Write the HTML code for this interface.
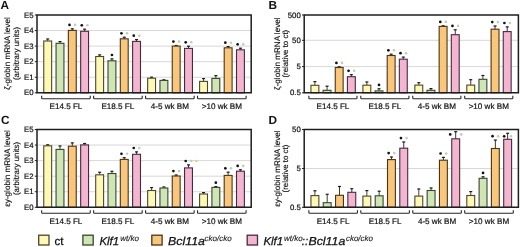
<!DOCTYPE html>
<html><head><meta charset="utf-8"><style>
html,body{margin:0;padding:0;background:#fff;width:520px;height:247px;overflow:hidden}
svg{display:block;will-change:transform}
text{font-family:"Liberation Sans", sans-serif;text-rendering:geometricPrecision}
</style></head><body>
<svg width="520" height="247" viewBox="0 0 520 247">
<rect width="520" height="247" fill="#fff"/>
<line x1="37" y1="77.24" x2="251.2" y2="77.24" stroke="#d8d8d8" stroke-width="1"/>
<line x1="37" y1="61.68" x2="251.2" y2="61.68" stroke="#d8d8d8" stroke-width="1"/>
<line x1="37" y1="46.12" x2="251.2" y2="46.12" stroke="#d8d8d8" stroke-width="1"/>
<line x1="37" y1="30.56" x2="251.2" y2="30.56" stroke="#d8d8d8" stroke-width="1"/>
<line x1="47.70" y1="38.8" x2="47.70" y2="41.0" stroke="#4a4630" stroke-width="1"/>
<line x1="46.20" y1="39.00" x2="49.20" y2="39.00" stroke="#1a1a1a" stroke-width="1.2"/>
<rect x="43.75" y="41.0" width="7.9" height="51.80" fill="#fdf8b4" stroke="#4a4630" stroke-width="1.1"/>
<line x1="60.00" y1="41.4" x2="60.00" y2="43.3" stroke="#36452e" stroke-width="1"/>
<line x1="58.50" y1="41.60" x2="61.50" y2="41.60" stroke="#1a1a1a" stroke-width="1.2"/>
<rect x="56.05" y="43.3" width="7.9" height="49.50" fill="#cfe6b4" stroke="#36452e" stroke-width="1.1"/>
<line x1="72.30" y1="28.6" x2="72.30" y2="30.4" stroke="#4a3418" stroke-width="1"/>
<line x1="70.80" y1="28.80" x2="73.80" y2="28.80" stroke="#1a1a1a" stroke-width="1.2"/>
<rect x="68.35" y="30.4" width="7.9" height="62.40" fill="#f8c77c" stroke="#4a3418" stroke-width="1.1"/>
<circle cx="69.50" cy="24.90" r="1.35" fill="#111"/>
<circle cx="75.10" cy="24.90" r="1.3" fill="#b9d3ad"/>
<line x1="84.60" y1="29" x2="84.60" y2="31.3" stroke="#452c3c" stroke-width="1"/>
<line x1="83.10" y1="29.20" x2="86.10" y2="29.20" stroke="#1a1a1a" stroke-width="1.2"/>
<rect x="80.65" y="31.3" width="7.9" height="61.50" fill="#f3b5d0" stroke="#452c3c" stroke-width="1.1"/>
<circle cx="81.80" cy="25.30" r="1.35" fill="#111"/>
<circle cx="87.40" cy="25.30" r="1.3" fill="#b9d3ad"/>
<path d="M41.65 95.8 V98.0 Q41.65 98.8 42.45 98.8 H89.45 Q90.25 98.8 90.25 98.0 V95.8" fill="none" stroke="#262626" stroke-width="1.1"/>
<text x="65.95" y="109.10" font-size="8.1" text-anchor="middle" fill="#111" stroke="#111" stroke-width="0.2">E14.5 FL</text>
<line x1="99.65" y1="54.7" x2="99.65" y2="56.5" stroke="#4a4630" stroke-width="1"/>
<line x1="98.15" y1="54.90" x2="101.15" y2="54.90" stroke="#1a1a1a" stroke-width="1.2"/>
<rect x="95.70" y="56.5" width="7.9" height="36.30" fill="#fdf8b4" stroke="#4a4630" stroke-width="1.1"/>
<line x1="111.95" y1="58.7" x2="111.95" y2="60.8" stroke="#36452e" stroke-width="1"/>
<line x1="110.45" y1="58.90" x2="113.45" y2="58.90" stroke="#1a1a1a" stroke-width="1.2"/>
<rect x="108.00" y="60.8" width="7.9" height="32.00" fill="#cfe6b4" stroke="#36452e" stroke-width="1.1"/>
<circle cx="111.95" cy="55.00" r="1.35" fill="#111"/>
<line x1="124.25" y1="37" x2="124.25" y2="38.8" stroke="#4a3418" stroke-width="1"/>
<line x1="122.75" y1="37.20" x2="125.75" y2="37.20" stroke="#1a1a1a" stroke-width="1.2"/>
<rect x="120.30" y="38.8" width="7.9" height="54.00" fill="#f8c77c" stroke="#4a3418" stroke-width="1.1"/>
<circle cx="121.45" cy="33.30" r="1.35" fill="#111"/>
<circle cx="127.05" cy="33.30" r="1.3" fill="#b9d3ad"/>
<line x1="136.55" y1="39.4" x2="136.55" y2="41.4" stroke="#452c3c" stroke-width="1"/>
<line x1="135.05" y1="39.60" x2="138.05" y2="39.60" stroke="#1a1a1a" stroke-width="1.2"/>
<rect x="132.60" y="41.4" width="7.9" height="51.40" fill="#f3b5d0" stroke="#452c3c" stroke-width="1.1"/>
<circle cx="133.75" cy="35.70" r="1.35" fill="#111"/>
<circle cx="139.35" cy="35.70" r="1.3" fill="#b9d3ad"/>
<path d="M93.60 95.8 V98.0 Q93.60 98.8 94.40 98.8 H141.40 Q142.20 98.8 142.20 98.0 V95.8" fill="none" stroke="#262626" stroke-width="1.1"/>
<text x="117.90" y="109.10" font-size="8.1" text-anchor="middle" fill="#111" stroke="#111" stroke-width="0.2">E18.5 FL</text>
<line x1="151.60" y1="77" x2="151.60" y2="78.2" stroke="#4a4630" stroke-width="1"/>
<line x1="150.10" y1="77.20" x2="153.10" y2="77.20" stroke="#1a1a1a" stroke-width="1.2"/>
<rect x="147.65" y="78.2" width="7.9" height="14.60" fill="#fdf8b4" stroke="#4a4630" stroke-width="1.1"/>
<line x1="163.90" y1="79.6" x2="163.90" y2="80.4" stroke="#36452e" stroke-width="1"/>
<line x1="162.40" y1="79.80" x2="165.40" y2="79.80" stroke="#1a1a1a" stroke-width="1.2"/>
<rect x="159.95" y="80.4" width="7.9" height="12.40" fill="#cfe6b4" stroke="#36452e" stroke-width="1.1"/>
<line x1="176.20" y1="45.3" x2="176.20" y2="46.1" stroke="#4a3418" stroke-width="1"/>
<line x1="174.70" y1="45.50" x2="177.70" y2="45.50" stroke="#1a1a1a" stroke-width="1.2"/>
<rect x="172.25" y="46.1" width="7.9" height="46.70" fill="#f8c77c" stroke="#4a3418" stroke-width="1.1"/>
<circle cx="173.40" cy="41.60" r="1.35" fill="#111"/>
<circle cx="179.00" cy="41.60" r="1.3" fill="#b9d3ad"/>
<line x1="188.50" y1="46" x2="188.50" y2="48.4" stroke="#452c3c" stroke-width="1"/>
<line x1="187.00" y1="46.20" x2="190.00" y2="46.20" stroke="#1a1a1a" stroke-width="1.2"/>
<rect x="184.55" y="48.4" width="7.9" height="44.40" fill="#f3b5d0" stroke="#452c3c" stroke-width="1.1"/>
<circle cx="185.70" cy="42.30" r="1.35" fill="#111"/>
<circle cx="191.30" cy="42.30" r="1.3" fill="#b9d3ad"/>
<path d="M145.55 95.8 V98.0 Q145.55 98.8 146.35 98.8 H193.35 Q194.15 98.8 194.15 98.0 V95.8" fill="none" stroke="#262626" stroke-width="1.1"/>
<text x="169.85" y="109.10" font-size="8.1" text-anchor="middle" fill="#111" stroke="#111" stroke-width="0.2">4-5 wk BM</text>
<line x1="203.55" y1="78.4" x2="203.55" y2="81.4" stroke="#4a4630" stroke-width="1"/>
<line x1="202.05" y1="78.60" x2="205.05" y2="78.60" stroke="#1a1a1a" stroke-width="1.2"/>
<rect x="199.60" y="81.4" width="7.9" height="11.40" fill="#fdf8b4" stroke="#4a4630" stroke-width="1.1"/>
<line x1="215.85" y1="75.4" x2="215.85" y2="78.4" stroke="#36452e" stroke-width="1"/>
<line x1="214.35" y1="75.60" x2="217.35" y2="75.60" stroke="#1a1a1a" stroke-width="1.2"/>
<rect x="211.90" y="78.4" width="7.9" height="14.40" fill="#cfe6b4" stroke="#36452e" stroke-width="1.1"/>
<line x1="228.15" y1="46.4" x2="228.15" y2="47.8" stroke="#4a3418" stroke-width="1"/>
<line x1="226.65" y1="46.60" x2="229.65" y2="46.60" stroke="#1a1a1a" stroke-width="1.2"/>
<rect x="224.20" y="47.8" width="7.9" height="45.00" fill="#f8c77c" stroke="#4a3418" stroke-width="1.1"/>
<circle cx="225.35" cy="42.70" r="1.35" fill="#111"/>
<circle cx="230.95" cy="42.70" r="1.3" fill="#b9d3ad"/>
<line x1="240.45" y1="48" x2="240.45" y2="49.8" stroke="#452c3c" stroke-width="1"/>
<line x1="238.95" y1="48.20" x2="241.95" y2="48.20" stroke="#1a1a1a" stroke-width="1.2"/>
<rect x="236.50" y="49.8" width="7.9" height="43.00" fill="#f3b5d0" stroke="#452c3c" stroke-width="1.1"/>
<circle cx="237.65" cy="44.30" r="1.35" fill="#111"/>
<circle cx="243.25" cy="44.30" r="1.3" fill="#b9d3ad"/>
<path d="M197.50 95.8 V98.0 Q197.50 98.8 198.30 98.8 H245.30 Q246.10 98.8 246.10 98.0 V95.8" fill="none" stroke="#262626" stroke-width="1.1"/>
<text x="221.80" y="109.10" font-size="8.1" text-anchor="middle" fill="#111" stroke="#111" stroke-width="0.2">&gt;10 wk BM</text>
<path d="M37 15.0 H251.2 V92.8 H37 Z" fill="none" stroke="#1e1e1e" stroke-width="1.5"/>
<line x1="34.8" y1="92.8" x2="37" y2="92.8" stroke="#1e1e1e" stroke-width="1"/>
<text x="33.6" y="95.30" font-size="7.8" text-anchor="end" fill="#111" stroke="#111" stroke-width="0.2">E0</text>
<line x1="34.8" y1="77.24" x2="37" y2="77.24" stroke="#1e1e1e" stroke-width="1"/>
<text x="33.6" y="79.74" font-size="7.8" text-anchor="end" fill="#111" stroke="#111" stroke-width="0.2">E1</text>
<line x1="34.8" y1="61.68" x2="37" y2="61.68" stroke="#1e1e1e" stroke-width="1"/>
<text x="33.6" y="64.18" font-size="7.8" text-anchor="end" fill="#111" stroke="#111" stroke-width="0.2">E2</text>
<line x1="34.8" y1="46.12" x2="37" y2="46.12" stroke="#1e1e1e" stroke-width="1"/>
<text x="33.6" y="48.62" font-size="7.8" text-anchor="end" fill="#111" stroke="#111" stroke-width="0.2">E3</text>
<line x1="34.8" y1="30.56" x2="37" y2="30.56" stroke="#1e1e1e" stroke-width="1"/>
<text x="33.6" y="33.06" font-size="7.8" text-anchor="end" fill="#111" stroke="#111" stroke-width="0.2">E4</text>
<line x1="34.8" y1="15.0" x2="37" y2="15.0" stroke="#1e1e1e" stroke-width="1"/>
<text x="33.6" y="17.50" font-size="7.8" text-anchor="end" fill="#111" stroke="#111" stroke-width="0.2">E5</text>
<text x="0.5" y="9" font-size="11.8" font-weight="bold" fill="#111">A</text>
<text transform="translate(10.3,53.5) rotate(-90)" font-size="7.9" text-anchor="middle" fill="#111" stroke="#111" stroke-width="0.15"><tspan x="0" y="0" font-size="8.1">ζ-globin mRNA level</tspan><tspan x="0" y="8.8">(arbitrary units)</tspan></text>
<line x1="304.2" y1="66.6" x2="518.4" y2="66.6" stroke="#d8d8d8" stroke-width="1"/>
<line x1="304.2" y1="40.3" x2="518.4" y2="40.3" stroke="#d8d8d8" stroke-width="1"/>
<line x1="314.90" y1="81.4" x2="314.90" y2="85.3" stroke="#4a4630" stroke-width="1"/>
<line x1="313.40" y1="81.60" x2="316.40" y2="81.60" stroke="#1a1a1a" stroke-width="1.2"/>
<rect x="310.95" y="85.3" width="7.9" height="7.50" fill="#fdf8b4" stroke="#4a4630" stroke-width="1.1"/>
<line x1="327.05" y1="86" x2="327.05" y2="90.3" stroke="#36452e" stroke-width="1"/>
<line x1="325.55" y1="86.20" x2="328.55" y2="86.20" stroke="#1a1a1a" stroke-width="1.2"/>
<rect x="323.10" y="90.3" width="7.9" height="2.50" fill="#cfe6b4" stroke="#36452e" stroke-width="1.1"/>
<line x1="339.20" y1="66.6" x2="339.20" y2="67.5" stroke="#4a3418" stroke-width="1"/>
<line x1="337.70" y1="66.80" x2="340.70" y2="66.80" stroke="#1a1a1a" stroke-width="1.2"/>
<rect x="335.25" y="67.5" width="7.9" height="25.30" fill="#f8c77c" stroke="#4a3418" stroke-width="1.1"/>
<circle cx="336.40" cy="62.90" r="1.35" fill="#111"/>
<circle cx="342.00" cy="62.90" r="1.3" fill="#b9d3ad"/>
<line x1="351.35" y1="74.5" x2="351.35" y2="76.7" stroke="#452c3c" stroke-width="1"/>
<line x1="349.85" y1="74.70" x2="352.85" y2="74.70" stroke="#1a1a1a" stroke-width="1.2"/>
<rect x="347.40" y="76.7" width="7.9" height="16.10" fill="#f3b5d0" stroke="#452c3c" stroke-width="1.1"/>
<circle cx="348.55" cy="70.80" r="1.35" fill="#111"/>
<circle cx="354.15" cy="70.80" r="1.3" fill="#b9d3ad"/>
<path d="M308.85 95.8 V98.0 Q308.85 98.8 309.65 98.8 H356.20 Q357.00 98.8 357.00 98.0 V95.8" fill="none" stroke="#262626" stroke-width="1.1"/>
<text x="332.92" y="109.10" font-size="8.1" text-anchor="middle" fill="#111" stroke="#111" stroke-width="0.2">E14.5 FL</text>
<line x1="366.85" y1="81.8" x2="366.85" y2="85.2" stroke="#4a4630" stroke-width="1"/>
<line x1="365.35" y1="82.00" x2="368.35" y2="82.00" stroke="#1a1a1a" stroke-width="1.2"/>
<rect x="362.90" y="85.2" width="7.9" height="7.60" fill="#fdf8b4" stroke="#4a4630" stroke-width="1.1"/>
<line x1="379.00" y1="88.6" x2="379.00" y2="90.9" stroke="#36452e" stroke-width="1"/>
<line x1="377.50" y1="88.80" x2="380.50" y2="88.80" stroke="#1a1a1a" stroke-width="1.2"/>
<rect x="375.05" y="90.9" width="7.9" height="1.90" fill="#cfe6b4" stroke="#36452e" stroke-width="1.1"/>
<circle cx="379.00" cy="84.90" r="1.35" fill="#111"/>
<line x1="391.15" y1="54" x2="391.15" y2="55.5" stroke="#4a3418" stroke-width="1"/>
<line x1="389.65" y1="54.20" x2="392.65" y2="54.20" stroke="#1a1a1a" stroke-width="1.2"/>
<rect x="387.20" y="55.5" width="7.9" height="37.30" fill="#f8c77c" stroke="#4a3418" stroke-width="1.1"/>
<circle cx="388.35" cy="50.30" r="1.35" fill="#111"/>
<circle cx="393.95" cy="50.30" r="1.3" fill="#b9d3ad"/>
<line x1="403.30" y1="56.9" x2="403.30" y2="59.2" stroke="#452c3c" stroke-width="1"/>
<line x1="401.80" y1="57.10" x2="404.80" y2="57.10" stroke="#1a1a1a" stroke-width="1.2"/>
<rect x="399.35" y="59.2" width="7.9" height="33.60" fill="#f3b5d0" stroke="#452c3c" stroke-width="1.1"/>
<circle cx="400.50" cy="53.20" r="1.35" fill="#111"/>
<circle cx="406.10" cy="53.20" r="1.3" fill="#b9d3ad"/>
<path d="M360.80 95.8 V98.0 Q360.80 98.8 361.60 98.8 H408.15 Q408.95 98.8 408.95 98.0 V95.8" fill="none" stroke="#262626" stroke-width="1.1"/>
<text x="384.87" y="109.10" font-size="8.1" text-anchor="middle" fill="#111" stroke="#111" stroke-width="0.2">E18.5 FL</text>
<line x1="418.80" y1="82.5" x2="418.80" y2="85.1" stroke="#4a4630" stroke-width="1"/>
<line x1="417.30" y1="82.70" x2="420.30" y2="82.70" stroke="#1a1a1a" stroke-width="1.2"/>
<rect x="414.85" y="85.1" width="7.9" height="7.70" fill="#fdf8b4" stroke="#4a4630" stroke-width="1.1"/>
<line x1="430.95" y1="88.4" x2="430.95" y2="90.3" stroke="#36452e" stroke-width="1"/>
<line x1="429.45" y1="88.60" x2="432.45" y2="88.60" stroke="#1a1a1a" stroke-width="1.2"/>
<rect x="427.00" y="90.3" width="7.9" height="2.50" fill="#cfe6b4" stroke="#36452e" stroke-width="1.1"/>
<line x1="443.10" y1="25.6" x2="443.10" y2="26.4" stroke="#4a3418" stroke-width="1"/>
<line x1="441.60" y1="25.80" x2="444.60" y2="25.80" stroke="#1a1a1a" stroke-width="1.2"/>
<rect x="439.15" y="26.4" width="7.9" height="66.40" fill="#f8c77c" stroke="#4a3418" stroke-width="1.1"/>
<circle cx="440.30" cy="21.90" r="1.35" fill="#111"/>
<circle cx="445.90" cy="21.90" r="1.3" fill="#b9d3ad"/>
<line x1="455.25" y1="29.6" x2="455.25" y2="34.7" stroke="#452c3c" stroke-width="1"/>
<line x1="453.75" y1="29.80" x2="456.75" y2="29.80" stroke="#1a1a1a" stroke-width="1.2"/>
<rect x="451.30" y="34.7" width="7.9" height="58.10" fill="#f3b5d0" stroke="#452c3c" stroke-width="1.1"/>
<circle cx="452.45" cy="25.90" r="1.35" fill="#111"/>
<circle cx="458.05" cy="25.90" r="1.3" fill="#b9d3ad"/>
<path d="M412.75 95.8 V98.0 Q412.75 98.8 413.55 98.8 H460.10 Q460.90 98.8 460.90 98.0 V95.8" fill="none" stroke="#262626" stroke-width="1.1"/>
<text x="436.82" y="109.10" font-size="8.1" text-anchor="middle" fill="#111" stroke="#111" stroke-width="0.2">4-5 wk BM</text>
<line x1="470.75" y1="79.5" x2="470.75" y2="85.1" stroke="#4a4630" stroke-width="1"/>
<line x1="469.25" y1="79.70" x2="472.25" y2="79.70" stroke="#1a1a1a" stroke-width="1.2"/>
<rect x="466.80" y="85.1" width="7.9" height="7.70" fill="#fdf8b4" stroke="#4a4630" stroke-width="1.1"/>
<line x1="482.90" y1="75.3" x2="482.90" y2="79.3" stroke="#36452e" stroke-width="1"/>
<line x1="481.40" y1="75.50" x2="484.40" y2="75.50" stroke="#1a1a1a" stroke-width="1.2"/>
<rect x="478.95" y="79.3" width="7.9" height="13.50" fill="#cfe6b4" stroke="#36452e" stroke-width="1.1"/>
<line x1="495.05" y1="25.8" x2="495.05" y2="29.2" stroke="#4a3418" stroke-width="1"/>
<line x1="493.55" y1="26.00" x2="496.55" y2="26.00" stroke="#1a1a1a" stroke-width="1.2"/>
<rect x="491.10" y="29.2" width="7.9" height="63.60" fill="#f8c77c" stroke="#4a3418" stroke-width="1.1"/>
<circle cx="492.25" cy="22.10" r="1.35" fill="#111"/>
<circle cx="497.85" cy="22.10" r="1.3" fill="#b9d3ad"/>
<line x1="507.20" y1="26.7" x2="507.20" y2="31.6" stroke="#452c3c" stroke-width="1"/>
<line x1="505.70" y1="26.90" x2="508.70" y2="26.90" stroke="#1a1a1a" stroke-width="1.2"/>
<rect x="503.25" y="31.6" width="7.9" height="61.20" fill="#f3b5d0" stroke="#452c3c" stroke-width="1.1"/>
<circle cx="504.40" cy="23.00" r="1.35" fill="#111"/>
<circle cx="510.00" cy="23.00" r="1.3" fill="#b9d3ad"/>
<path d="M464.70 95.8 V98.0 Q464.70 98.8 465.50 98.8 H512.05 Q512.85 98.8 512.85 98.0 V95.8" fill="none" stroke="#262626" stroke-width="1.1"/>
<text x="488.77" y="109.10" font-size="8.1" text-anchor="middle" fill="#111" stroke="#111" stroke-width="0.2">&gt;10 wk BM</text>
<path d="M304.2 15.0 H518.4 V92.8 H304.2 Z" fill="none" stroke="#1e1e1e" stroke-width="1.5"/>
<line x1="302.0" y1="92.8" x2="304.2" y2="92.8" stroke="#1e1e1e" stroke-width="1"/>
<text x="300.8" y="95.30" font-size="7.8" text-anchor="end" fill="#111" stroke="#111" stroke-width="0.2">0.5</text>
<line x1="302.0" y1="66.6" x2="304.2" y2="66.6" stroke="#1e1e1e" stroke-width="1"/>
<text x="300.8" y="69.10" font-size="7.8" text-anchor="end" fill="#111" stroke="#111" stroke-width="0.2">5</text>
<line x1="302.0" y1="40.3" x2="304.2" y2="40.3" stroke="#1e1e1e" stroke-width="1"/>
<text x="300.8" y="42.80" font-size="7.8" text-anchor="end" fill="#111" stroke="#111" stroke-width="0.2">50</text>
<line x1="302.0" y1="15.0" x2="304.2" y2="15.0" stroke="#1e1e1e" stroke-width="1"/>
<text x="300.8" y="17.50" font-size="7.8" text-anchor="end" fill="#111" stroke="#111" stroke-width="0.2">500</text>
<text x="268.5" y="9" font-size="11.8" font-weight="bold" fill="#111">B</text>
<text transform="translate(279.6,53.7) rotate(-90)" font-size="7.9" text-anchor="middle" fill="#111" stroke="#111" stroke-width="0.15"><tspan x="0" y="0" font-size="8.1">ζ-globin mRNA level</tspan><tspan x="0" y="8.8">(relative to ct)</tspan></text>
<line x1="37" y1="191.74" x2="251.2" y2="191.74" stroke="#d8d8d8" stroke-width="1"/>
<line x1="37" y1="176.18" x2="251.2" y2="176.18" stroke="#d8d8d8" stroke-width="1"/>
<line x1="37" y1="160.62" x2="251.2" y2="160.62" stroke="#d8d8d8" stroke-width="1"/>
<line x1="37" y1="145.06" x2="251.2" y2="145.06" stroke="#d8d8d8" stroke-width="1"/>
<line x1="47.70" y1="144.6" x2="47.70" y2="145.8" stroke="#4a4630" stroke-width="1"/>
<line x1="46.20" y1="144.80" x2="49.20" y2="144.80" stroke="#1a1a1a" stroke-width="1.2"/>
<rect x="43.75" y="145.8" width="7.9" height="61.50" fill="#fdf8b4" stroke="#4a4630" stroke-width="1.1"/>
<line x1="60.00" y1="145.8" x2="60.00" y2="149.4" stroke="#36452e" stroke-width="1"/>
<line x1="58.50" y1="146.00" x2="61.50" y2="146.00" stroke="#1a1a1a" stroke-width="1.2"/>
<rect x="56.05" y="149.4" width="7.9" height="57.90" fill="#cfe6b4" stroke="#36452e" stroke-width="1.1"/>
<line x1="72.30" y1="142.7" x2="72.30" y2="146.2" stroke="#4a3418" stroke-width="1"/>
<line x1="70.80" y1="142.90" x2="73.80" y2="142.90" stroke="#1a1a1a" stroke-width="1.2"/>
<rect x="68.35" y="146.2" width="7.9" height="61.10" fill="#f8c77c" stroke="#4a3418" stroke-width="1.1"/>
<line x1="84.60" y1="143.3" x2="84.60" y2="144.9" stroke="#452c3c" stroke-width="1"/>
<line x1="83.10" y1="143.50" x2="86.10" y2="143.50" stroke="#1a1a1a" stroke-width="1.2"/>
<rect x="80.65" y="144.9" width="7.9" height="62.40" fill="#f3b5d0" stroke="#452c3c" stroke-width="1.1"/>
<path d="M41.65 210.3 V212.5 Q41.65 213.3 42.45 213.3 H89.45 Q90.25 213.3 90.25 212.5 V210.3" fill="none" stroke="#262626" stroke-width="1.1"/>
<text x="65.95" y="223.60" font-size="8.1" text-anchor="middle" fill="#111" stroke="#111" stroke-width="0.2">E14.5 FL</text>
<line x1="99.65" y1="172.1" x2="99.65" y2="174.8" stroke="#4a4630" stroke-width="1"/>
<line x1="98.15" y1="172.30" x2="101.15" y2="172.30" stroke="#1a1a1a" stroke-width="1.2"/>
<rect x="95.70" y="174.8" width="7.9" height="32.50" fill="#fdf8b4" stroke="#4a4630" stroke-width="1.1"/>
<line x1="111.95" y1="171.1" x2="111.95" y2="173.5" stroke="#36452e" stroke-width="1"/>
<line x1="110.45" y1="171.30" x2="113.45" y2="171.30" stroke="#1a1a1a" stroke-width="1.2"/>
<rect x="108.00" y="173.5" width="7.9" height="33.80" fill="#cfe6b4" stroke="#36452e" stroke-width="1.1"/>
<line x1="124.25" y1="157.5" x2="124.25" y2="159.4" stroke="#4a3418" stroke-width="1"/>
<line x1="122.75" y1="157.70" x2="125.75" y2="157.70" stroke="#1a1a1a" stroke-width="1.2"/>
<rect x="120.30" y="159.4" width="7.9" height="47.90" fill="#f8c77c" stroke="#4a3418" stroke-width="1.1"/>
<circle cx="121.45" cy="153.80" r="1.35" fill="#111"/>
<circle cx="127.05" cy="153.80" r="1.3" fill="#b9d3ad"/>
<line x1="136.55" y1="151.7" x2="136.55" y2="154.3" stroke="#452c3c" stroke-width="1"/>
<line x1="135.05" y1="151.90" x2="138.05" y2="151.90" stroke="#1a1a1a" stroke-width="1.2"/>
<rect x="132.60" y="154.3" width="7.9" height="53.00" fill="#f3b5d0" stroke="#452c3c" stroke-width="1.1"/>
<circle cx="133.75" cy="148.00" r="1.35" fill="#111"/>
<circle cx="139.35" cy="148.00" r="1.3" fill="#b9d3ad"/>
<path d="M93.60 210.3 V212.5 Q93.60 213.3 94.40 213.3 H141.40 Q142.20 213.3 142.20 212.5 V210.3" fill="none" stroke="#262626" stroke-width="1.1"/>
<text x="117.90" y="223.60" font-size="8.1" text-anchor="middle" fill="#111" stroke="#111" stroke-width="0.2">E18.5 FL</text>
<line x1="151.60" y1="187.4" x2="151.60" y2="190.5" stroke="#4a4630" stroke-width="1"/>
<line x1="150.10" y1="187.60" x2="153.10" y2="187.60" stroke="#1a1a1a" stroke-width="1.2"/>
<rect x="147.65" y="190.5" width="7.9" height="16.80" fill="#fdf8b4" stroke="#4a4630" stroke-width="1.1"/>
<line x1="163.90" y1="186.8" x2="163.90" y2="188" stroke="#36452e" stroke-width="1"/>
<line x1="162.40" y1="187.00" x2="165.40" y2="187.00" stroke="#1a1a1a" stroke-width="1.2"/>
<rect x="159.95" y="188" width="7.9" height="19.30" fill="#cfe6b4" stroke="#36452e" stroke-width="1.1"/>
<line x1="176.20" y1="174.8" x2="176.20" y2="176" stroke="#4a3418" stroke-width="1"/>
<line x1="174.70" y1="175.00" x2="177.70" y2="175.00" stroke="#1a1a1a" stroke-width="1.2"/>
<rect x="172.25" y="176" width="7.9" height="31.30" fill="#f8c77c" stroke="#4a3418" stroke-width="1.1"/>
<circle cx="173.40" cy="171.10" r="1.35" fill="#111"/>
<circle cx="179.00" cy="171.10" r="1.3" fill="#b9d3ad"/>
<line x1="188.50" y1="164.7" x2="188.50" y2="167.9" stroke="#452c3c" stroke-width="1"/>
<line x1="187.00" y1="164.90" x2="190.00" y2="164.90" stroke="#1a1a1a" stroke-width="1.2"/>
<rect x="184.55" y="167.9" width="7.9" height="39.40" fill="#f3b5d0" stroke="#452c3c" stroke-width="1.1"/>
<circle cx="185.70" cy="161.00" r="1.35" fill="#111"/>
<circle cx="191.30" cy="161.00" r="1.3" fill="#b9d3ad"/>
<circle cx="196.40" cy="161.00" r="1.3" fill="#f3c585"/>
<path d="M145.55 210.3 V212.5 Q145.55 213.3 146.35 213.3 H193.35 Q194.15 213.3 194.15 212.5 V210.3" fill="none" stroke="#262626" stroke-width="1.1"/>
<text x="169.85" y="223.60" font-size="8.1" text-anchor="middle" fill="#111" stroke="#111" stroke-width="0.2">4-5 wk BM</text>
<line x1="203.55" y1="192.4" x2="203.55" y2="194" stroke="#4a4630" stroke-width="1"/>
<line x1="202.05" y1="192.60" x2="205.05" y2="192.60" stroke="#1a1a1a" stroke-width="1.2"/>
<rect x="199.60" y="194" width="7.9" height="13.30" fill="#fdf8b4" stroke="#4a4630" stroke-width="1.1"/>
<line x1="215.85" y1="186.4" x2="215.85" y2="187.4" stroke="#36452e" stroke-width="1"/>
<line x1="214.35" y1="186.60" x2="217.35" y2="186.60" stroke="#1a1a1a" stroke-width="1.2"/>
<rect x="211.90" y="187.4" width="7.9" height="19.90" fill="#cfe6b4" stroke="#36452e" stroke-width="1.1"/>
<circle cx="215.85" cy="182.70" r="1.35" fill="#111"/>
<line x1="228.15" y1="172" x2="228.15" y2="175.4" stroke="#4a3418" stroke-width="1"/>
<line x1="226.65" y1="172.20" x2="229.65" y2="172.20" stroke="#1a1a1a" stroke-width="1.2"/>
<rect x="224.20" y="175.4" width="7.9" height="31.90" fill="#f8c77c" stroke="#4a3418" stroke-width="1.1"/>
<circle cx="225.35" cy="168.30" r="1.35" fill="#111"/>
<circle cx="230.95" cy="168.30" r="1.3" fill="#b9d3ad"/>
<line x1="240.45" y1="169.6" x2="240.45" y2="171.2" stroke="#452c3c" stroke-width="1"/>
<line x1="238.95" y1="169.80" x2="241.95" y2="169.80" stroke="#1a1a1a" stroke-width="1.2"/>
<rect x="236.50" y="171.2" width="7.9" height="36.10" fill="#f3b5d0" stroke="#452c3c" stroke-width="1.1"/>
<circle cx="237.65" cy="165.90" r="1.35" fill="#111"/>
<circle cx="243.25" cy="165.90" r="1.3" fill="#b9d3ad"/>
<path d="M197.50 210.3 V212.5 Q197.50 213.3 198.30 213.3 H245.30 Q246.10 213.3 246.10 212.5 V210.3" fill="none" stroke="#262626" stroke-width="1.1"/>
<text x="221.80" y="223.60" font-size="8.1" text-anchor="middle" fill="#111" stroke="#111" stroke-width="0.2">&gt;10 wk BM</text>
<path d="M37 129.5 H251.2 V207.3 H37 Z" fill="none" stroke="#1e1e1e" stroke-width="1.5"/>
<line x1="34.8" y1="207.3" x2="37" y2="207.3" stroke="#1e1e1e" stroke-width="1"/>
<text x="33.6" y="209.80" font-size="7.8" text-anchor="end" fill="#111" stroke="#111" stroke-width="0.2">E0</text>
<line x1="34.8" y1="191.74" x2="37" y2="191.74" stroke="#1e1e1e" stroke-width="1"/>
<text x="33.6" y="194.24" font-size="7.8" text-anchor="end" fill="#111" stroke="#111" stroke-width="0.2">E1</text>
<line x1="34.8" y1="176.18" x2="37" y2="176.18" stroke="#1e1e1e" stroke-width="1"/>
<text x="33.6" y="178.68" font-size="7.8" text-anchor="end" fill="#111" stroke="#111" stroke-width="0.2">E2</text>
<line x1="34.8" y1="160.62" x2="37" y2="160.62" stroke="#1e1e1e" stroke-width="1"/>
<text x="33.6" y="163.12" font-size="7.8" text-anchor="end" fill="#111" stroke="#111" stroke-width="0.2">E3</text>
<line x1="34.8" y1="145.06" x2="37" y2="145.06" stroke="#1e1e1e" stroke-width="1"/>
<text x="33.6" y="147.56" font-size="7.8" text-anchor="end" fill="#111" stroke="#111" stroke-width="0.2">E4</text>
<line x1="34.8" y1="129.5" x2="37" y2="129.5" stroke="#1e1e1e" stroke-width="1"/>
<text x="33.6" y="132.00" font-size="7.8" text-anchor="end" fill="#111" stroke="#111" stroke-width="0.2">E5</text>
<text x="1" y="124" font-size="11.8" font-weight="bold" fill="#111">C</text>
<text transform="translate(10.3,168.5) rotate(-90)" font-size="7.9" text-anchor="middle" fill="#111" stroke="#111" stroke-width="0.15"><tspan x="0" y="0" font-size="8.1">εy-globin mRNA level</tspan><tspan x="0" y="8.8">(arbitrary units)</tspan></text>
<line x1="304.2" y1="168.5" x2="518.4" y2="168.5" stroke="#d8d8d8" stroke-width="1"/>
<line x1="314.90" y1="190.6" x2="314.90" y2="195.6" stroke="#4a4630" stroke-width="1"/>
<line x1="313.40" y1="190.80" x2="316.40" y2="190.80" stroke="#1a1a1a" stroke-width="1.2"/>
<rect x="310.95" y="195.6" width="7.9" height="11.70" fill="#fdf8b4" stroke="#4a4630" stroke-width="1.1"/>
<line x1="327.20" y1="194.1" x2="327.20" y2="202.7" stroke="#36452e" stroke-width="1"/>
<line x1="325.70" y1="194.30" x2="328.70" y2="194.30" stroke="#1a1a1a" stroke-width="1.2"/>
<rect x="323.25" y="202.7" width="7.9" height="4.60" fill="#cfe6b4" stroke="#36452e" stroke-width="1.1"/>
<line x1="339.50" y1="186.3" x2="339.50" y2="195.3" stroke="#4a3418" stroke-width="1"/>
<line x1="338.00" y1="186.50" x2="341.00" y2="186.50" stroke="#1a1a1a" stroke-width="1.2"/>
<rect x="335.55" y="195.3" width="7.9" height="12.00" fill="#f8c77c" stroke="#4a3418" stroke-width="1.1"/>
<line x1="351.80" y1="188.5" x2="351.80" y2="192.3" stroke="#452c3c" stroke-width="1"/>
<line x1="350.30" y1="188.70" x2="353.30" y2="188.70" stroke="#1a1a1a" stroke-width="1.2"/>
<rect x="347.85" y="192.3" width="7.9" height="15.00" fill="#f3b5d0" stroke="#452c3c" stroke-width="1.1"/>
<path d="M308.85 210.3 V212.5 Q308.85 213.3 309.65 213.3 H356.65 Q357.45 213.3 357.45 212.5 V210.3" fill="none" stroke="#262626" stroke-width="1.1"/>
<text x="333.15" y="223.60" font-size="8.1" text-anchor="middle" fill="#111" stroke="#111" stroke-width="0.2">E14.5 FL</text>
<line x1="366.85" y1="190.4" x2="366.85" y2="196.1" stroke="#4a4630" stroke-width="1"/>
<line x1="365.35" y1="190.60" x2="368.35" y2="190.60" stroke="#1a1a1a" stroke-width="1.2"/>
<rect x="362.90" y="196.1" width="7.9" height="11.20" fill="#fdf8b4" stroke="#4a4630" stroke-width="1.1"/>
<line x1="379.15" y1="191" x2="379.15" y2="195.8" stroke="#36452e" stroke-width="1"/>
<line x1="377.65" y1="191.20" x2="380.65" y2="191.20" stroke="#1a1a1a" stroke-width="1.2"/>
<rect x="375.20" y="195.8" width="7.9" height="11.50" fill="#cfe6b4" stroke="#36452e" stroke-width="1.1"/>
<line x1="391.45" y1="156.8" x2="391.45" y2="159.6" stroke="#4a3418" stroke-width="1"/>
<line x1="389.95" y1="157.00" x2="392.95" y2="157.00" stroke="#1a1a1a" stroke-width="1.2"/>
<rect x="387.50" y="159.6" width="7.9" height="47.70" fill="#f8c77c" stroke="#4a3418" stroke-width="1.1"/>
<circle cx="388.65" cy="153.10" r="1.35" fill="#111"/>
<circle cx="394.25" cy="153.10" r="1.3" fill="#b9d3ad"/>
<line x1="403.75" y1="141.8" x2="403.75" y2="148.2" stroke="#452c3c" stroke-width="1"/>
<line x1="402.25" y1="142.00" x2="405.25" y2="142.00" stroke="#1a1a1a" stroke-width="1.2"/>
<rect x="399.80" y="148.2" width="7.9" height="59.10" fill="#f3b5d0" stroke="#452c3c" stroke-width="1.1"/>
<circle cx="400.95" cy="138.10" r="1.35" fill="#111"/>
<circle cx="406.55" cy="138.10" r="1.3" fill="#b9d3ad"/>
<path d="M360.80 210.3 V212.5 Q360.80 213.3 361.60 213.3 H408.60 Q409.40 213.3 409.40 212.5 V210.3" fill="none" stroke="#262626" stroke-width="1.1"/>
<text x="385.10" y="223.60" font-size="8.1" text-anchor="middle" fill="#111" stroke="#111" stroke-width="0.2">E18.5 FL</text>
<line x1="418.80" y1="188.8" x2="418.80" y2="196.1" stroke="#4a4630" stroke-width="1"/>
<line x1="417.30" y1="189.00" x2="420.30" y2="189.00" stroke="#1a1a1a" stroke-width="1.2"/>
<rect x="414.85" y="196.1" width="7.9" height="11.20" fill="#fdf8b4" stroke="#4a4630" stroke-width="1.1"/>
<line x1="431.10" y1="187.8" x2="431.10" y2="190.5" stroke="#36452e" stroke-width="1"/>
<line x1="429.60" y1="188.00" x2="432.60" y2="188.00" stroke="#1a1a1a" stroke-width="1.2"/>
<rect x="427.15" y="190.5" width="7.9" height="16.80" fill="#cfe6b4" stroke="#36452e" stroke-width="1.1"/>
<line x1="443.40" y1="157.2" x2="443.40" y2="160.2" stroke="#4a3418" stroke-width="1"/>
<line x1="441.90" y1="157.40" x2="444.90" y2="157.40" stroke="#1a1a1a" stroke-width="1.2"/>
<rect x="439.45" y="160.2" width="7.9" height="47.10" fill="#f8c77c" stroke="#4a3418" stroke-width="1.1"/>
<circle cx="440.60" cy="153.50" r="1.35" fill="#111"/>
<circle cx="446.20" cy="153.50" r="1.3" fill="#b9d3ad"/>
<line x1="455.70" y1="131.5" x2="455.70" y2="138.8" stroke="#452c3c" stroke-width="1"/>
<line x1="454.20" y1="131.70" x2="457.20" y2="131.70" stroke="#1a1a1a" stroke-width="1.2"/>
<rect x="451.75" y="138.8" width="7.9" height="68.50" fill="#f3b5d0" stroke="#452c3c" stroke-width="1.1"/>
<circle cx="450.20" cy="134.40" r="1.35" fill="#111"/>
<circle cx="461.20" cy="134.40" r="1.3" fill="#b9d3ad"/>
<path d="M412.75 210.3 V212.5 Q412.75 213.3 413.55 213.3 H460.55 Q461.35 213.3 461.35 212.5 V210.3" fill="none" stroke="#262626" stroke-width="1.1"/>
<text x="437.05" y="223.60" font-size="8.1" text-anchor="middle" fill="#111" stroke="#111" stroke-width="0.2">4-5 wk BM</text>
<line x1="470.75" y1="191.4" x2="470.75" y2="195.5" stroke="#4a4630" stroke-width="1"/>
<line x1="469.25" y1="191.60" x2="472.25" y2="191.60" stroke="#1a1a1a" stroke-width="1.2"/>
<rect x="466.80" y="195.5" width="7.9" height="11.80" fill="#fdf8b4" stroke="#4a4630" stroke-width="1.1"/>
<line x1="483.05" y1="176.6" x2="483.05" y2="178.3" stroke="#36452e" stroke-width="1"/>
<line x1="481.55" y1="176.80" x2="484.55" y2="176.80" stroke="#1a1a1a" stroke-width="1.2"/>
<rect x="479.10" y="178.3" width="7.9" height="29.00" fill="#cfe6b4" stroke="#36452e" stroke-width="1.1"/>
<circle cx="483.05" cy="172.90" r="1.35" fill="#111"/>
<line x1="495.35" y1="139.9" x2="495.35" y2="148.5" stroke="#4a3418" stroke-width="1"/>
<line x1="493.85" y1="140.10" x2="496.85" y2="140.10" stroke="#1a1a1a" stroke-width="1.2"/>
<rect x="491.40" y="148.5" width="7.9" height="58.80" fill="#f8c77c" stroke="#4a3418" stroke-width="1.1"/>
<circle cx="492.55" cy="136.20" r="1.35" fill="#111"/>
<circle cx="498.15" cy="136.20" r="1.3" fill="#b9d3ad"/>
<line x1="507.65" y1="133.1" x2="507.65" y2="139.3" stroke="#452c3c" stroke-width="1"/>
<line x1="506.15" y1="133.30" x2="509.15" y2="133.30" stroke="#1a1a1a" stroke-width="1.2"/>
<rect x="503.70" y="139.3" width="7.9" height="68.00" fill="#f3b5d0" stroke="#452c3c" stroke-width="1.1"/>
<circle cx="504.15" cy="136.30" r="1.35" fill="#111"/>
<circle cx="510.95" cy="136.30" r="1.3" fill="#b9d3ad"/>
<path d="M464.70 210.3 V212.5 Q464.70 213.3 465.50 213.3 H512.50 Q513.30 213.3 513.30 212.5 V210.3" fill="none" stroke="#262626" stroke-width="1.1"/>
<text x="489.00" y="223.60" font-size="8.1" text-anchor="middle" fill="#111" stroke="#111" stroke-width="0.2">&gt;10 wk BM</text>
<path d="M304.2 129.5 H518.4 V207.3 H304.2 Z" fill="none" stroke="#1e1e1e" stroke-width="1.5"/>
<line x1="302.0" y1="207.3" x2="304.2" y2="207.3" stroke="#1e1e1e" stroke-width="1"/>
<text x="300.8" y="209.80" font-size="7.8" text-anchor="end" fill="#111" stroke="#111" stroke-width="0.2">0.5</text>
<line x1="302.0" y1="168.5" x2="304.2" y2="168.5" stroke="#1e1e1e" stroke-width="1"/>
<text x="300.8" y="171.00" font-size="7.8" text-anchor="end" fill="#111" stroke="#111" stroke-width="0.2">5</text>
<line x1="302.0" y1="129.5" x2="304.2" y2="129.5" stroke="#1e1e1e" stroke-width="1"/>
<text x="300.8" y="132.00" font-size="7.8" text-anchor="end" fill="#111" stroke="#111" stroke-width="0.2">50</text>
<text x="268.5" y="124" font-size="11.8" font-weight="bold" fill="#111">D</text>
<text transform="translate(279.6,168.6) rotate(-90)" font-size="7.9" text-anchor="middle" fill="#111" stroke="#111" stroke-width="0.15"><tspan x="0" y="0" font-size="8.1">εy-globin mRNA level</tspan><tspan x="0" y="8.8">(relative to ct)</tspan></text>

<g font-size="11.5" fill="#111" stroke="#111" stroke-width="0.25">
<rect x="38.7" y="235.2" width="10.3" height="9.8" fill="#fdf8b4" stroke="#4a4630" stroke-width="1.3"/>
<text x="54.4" y="244.7">ct</text>
<rect x="82.9" y="235.2" width="10.3" height="9.8" fill="#cfe6b4" stroke="#36452e" stroke-width="1.3"/>
<text x="99.4" y="244.7" font-style="italic">Klf1</text>
<text x="120.3" y="240.8" font-style="italic" font-size="8" stroke-width="0.1">wt/ko</text>
<rect x="151.8" y="235.2" width="10.3" height="9.8" fill="#f8c77c" stroke="#4a3418" stroke-width="1.3"/>
<text x="168.1" y="244.7" font-style="italic" textLength="36.9" lengthAdjust="spacingAndGlyphs">Bcl11a</text>
<text x="204.5" y="240.8" font-style="italic" font-size="8" stroke-width="0.1">cko/cko</text>
<rect x="247.2" y="235.2" width="10.3" height="9.8" fill="#f3b5d0" stroke="#452c3c" stroke-width="1.3"/>
<text x="263.4" y="244.7" font-style="italic">Klf1</text>
<text x="284" y="240.8" font-style="italic" font-size="8" stroke-width="0.1">wt/ko</text>
<text x="301.8" y="244.7" font-style="italic">::</text>
<text x="308.4" y="244.7" font-style="italic" textLength="36.9" lengthAdjust="spacingAndGlyphs">Bcl11a</text>
<text x="345.9" y="240.8" font-style="italic" font-size="8" stroke-width="0.1">cko/cko</text>
</g>

</svg>
</body></html>
